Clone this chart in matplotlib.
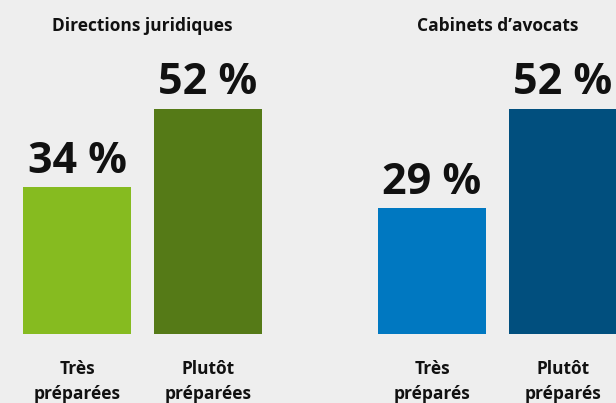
import matplotlib.pyplot as plt

# data
groups = ["Directions juridiques", "Cabinets d\u2019avocats"]
cat_labels = [["Très\npréparées", "Plutôt\npréparées"],
              ["Très\npréparés", "Plutôt\npréparés"]]
values = [[34, 52], [29, 52]]
colors = [["#86bb20", "#557a17"], ["#0078c1", "#014f7e"]]

plt.rcParams['font.family'] = ['Open Sans', 'DejaVu Sans']

W, H = 616, 403
fig = plt.figure(figsize=(W / 100, H / 100), dpi=100, facecolor="#eeeeee")

# pixel layout of each panel (left edge of axes, in px)
panel_left = [11.5, 366.5]
ax_w = 262
ax_bottom = 69
ax_h = 260

for i in range(2):
    ax = fig.add_axes([panel_left[i] / W, ax_bottom / H, ax_w / W, ax_h / H])
    ax.set_facecolor("#eeeeee")
    ax.set_xlim(-0.5, 1.5)
    ax.set_ylim(0, 60)
    x = [0, 1]
    ax.bar(x, values[i], width=108 / 131, color=colors[i])
    for xi, v in zip(x, values[i]):
        ax.annotate(f"{v} %", (xi, v), xytext=(0, 3), textcoords="offset points",
                    ha="center", va="bottom", fontsize=31, fontweight="bold",
                    color="#111111")
    ax.set_xticks(x)
    ax.set_xticklabels(cat_labels[i], fontsize=12.5, fontweight="bold",
                       color="#111111", linespacing=1.45)
    ax.tick_params(axis="x", length=0, pad=19)
    ax.set_yticks([])
    for s in ax.spines.values():
        s.set_visible(False)
    ax.set_title(groups[i], fontsize=12.5, fontweight="bold", color="#111111",
                 pad=31)

fig.savefig("out.png", dpi=100, facecolor=fig.get_facecolor())
